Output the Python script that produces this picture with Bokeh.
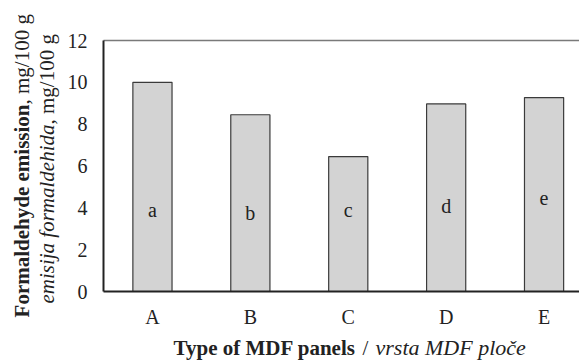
import math
from bokeh.plotting import figure
from bokeh.layouts import row, column
from bokeh.models import Range1d, FixedTicker, Label, ColumnDataSource, LinearAxis
from bokeh.embed import file_html
from bokeh.resources import INLINE
from bokeh.core.properties import value

categories = ["A", "B", "C", "D", "E"]
emission = [10.0, 8.45, 6.45, 8.97, 9.27]
letters = ["a", "b", "c", "d", "e"]
letter_level = [3.92, 3.73, 3.92, 4.11, 4.49]
y_ticks = [0, 2, 4, 6, 8, 10, 12]

FONT = "Liberation Serif"
ITALIC_FONT = "Liberation Serif, serif"
INK = "#222222"

LEFT_W = 60      # width of the strip holding the y title
MAIN_H = 332     # height of the chart row
BOTTOM_H = 28    # height of the strip holding the x title

xs = list(range(1, len(categories) + 1))
src = ColumnDataSource(dict(x=xs, top=emission, letter=letters, ly=letter_level))

p = figure(width=579 - LEFT_W, height=MAIN_H, output_backend="svg", toolbar_location=None,
           x_range=Range1d(0.5, 5.362), y_range=Range1d(0, 12),
           min_border_left=103 - LEFT_W, min_border_right=0, min_border_top=40,
           min_border_bottom=MAIN_H - 291, x_axis_location=None, y_axis_location=None,
           frame_align=False)
p.outline_line_color = None
p.xgrid.visible = False
p.ygrid.visible = False

p.vbar(x="x", top="top", bottom=0, width=0.4, source=src,
       fill_color="#d3d3d3", line_color="#3a3a3a", line_width=1.2)
p.text(x="x", y="ly", text="letter", source=src,
       text_font=value(FONT), text_font_size="20px", text_align="center",
       text_baseline="alphabetic", text_color=INK)

# left axis
yax = LinearAxis(ticker=FixedTicker(ticks=y_ticks))
yax.axis_line_color = INK
yax.axis_line_width = 2
yax.major_tick_line_color = None
yax.minor_tick_line_color = None
yax.major_tick_out = 0
yax.major_tick_in = 0
yax.major_label_standoff = 16
yax.major_label_text_font = FONT
yax.major_label_text_font_size = "20px"
yax.major_label_text_color = INK
p.add_layout(yax, "left")

# bottom axis
xax = LinearAxis(ticker=FixedTicker(ticks=xs),
                 major_label_overrides={i: c for i, c in zip(xs, categories)})
xax.axis_line_color = INK
xax.axis_line_width = 2
xax.major_tick_line_color = None
xax.minor_tick_line_color = None
xax.major_tick_out = 0
xax.major_tick_in = 0
xax.major_label_standoff = 14
xax.major_label_text_font = FONT
xax.major_label_text_font_size = "20px"
xax.major_label_text_color = INK
p.add_layout(xax, "below")

# top border line
tax = LinearAxis(ticker=FixedTicker(ticks=[]))
tax.axis_line_color = "#7a7a7a"
tax.axis_line_width = 1.5
tax.major_tick_line_color = None
tax.minor_tick_line_color = None
tax.major_label_text_font_size = "0px"
p.add_layout(tax, "above")


def strip(w, h):
    f = figure(width=w, height=h, output_backend="svg", toolbar_location=None,
               min_border=0, x_axis_location=None, y_axis_location=None,
               frame_align=False)
    f.outline_line_color = None
    f.xgrid.visible = False
    f.ygrid.visible = False
    return f


def lab(f, text, x, y, style, align, angle=0.0, size="21px"):
    fam = ITALIC_FONT if style == "italic" else FONT
    f.add_layout(Label(x=x, y=y, x_units="canvas", y_units="canvas", text=text,
                       angle=angle, text_font=fam, text_font_size=size,
                       text_font_style=style, text_align=align,
                       text_baseline="alphabetic", text_color=INK))


left = strip(LEFT_W, MAIN_H)
# y-axis title (two lines, mixed styles)
lab(left, "Formaldehyde emission", 21, 104, "bold", "right", math.pi / 2)
lab(left, ", mg/100 g", 21, 104, "normal", "left", math.pi / 2)
lab(left, "emisija formaldehida", 46, 124, "italic", "right", math.pi / 2)
lab(left, " , mg/100 g", 46, 124, "normal", "left", math.pi / 2)

bottom = strip(579, BOTTOM_H)
# x-axis title
by = 15
lab(bottom, "Type of MDF panels", 173, by, "bold", "left")
lab(bottom, "/", 365, by, "normal", "center")
lab(bottom, "vrsta MDF ploče", 375, by, "italic", "left", size="22px")

layout = column(row(left, p, spacing=0), bottom, spacing=0)
open("out.html", "w").write(file_html(layout, INLINE))
